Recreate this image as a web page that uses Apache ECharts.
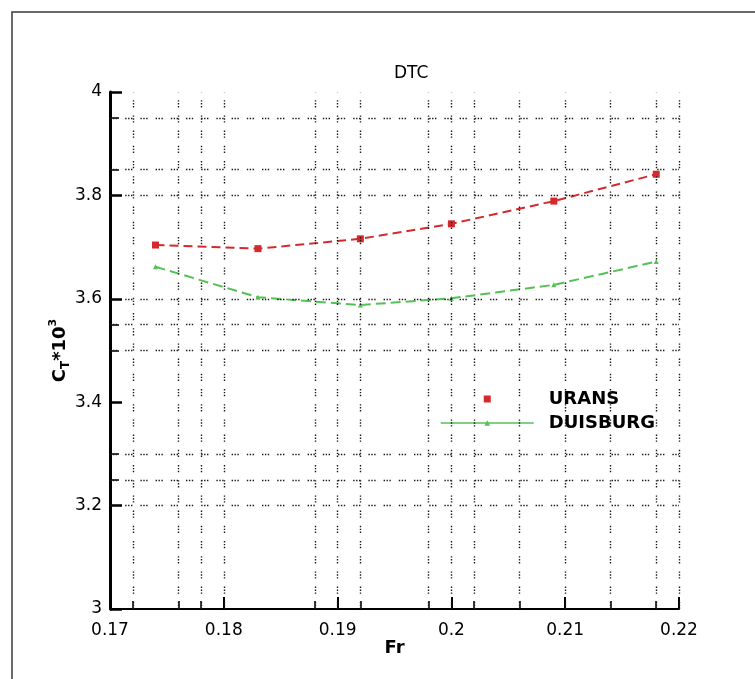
<!DOCTYPE html>
<html>
<head>
<meta charset="utf-8">
<script src="https://cdn.jsdelivr.net/npm/echarts@6/dist/echarts.min.js"></script>
<style>
  html, body { margin: 0; padding: 0; background: #fff; }
  #chart { width: 755px; height: 679px; }
</style>
</head>
<body>
<div id="chart"></div>
<script>
// Froude numbers of the computed / measured runs
const froude = [0.174, 0.183, 0.192, 0.200, 0.209, 0.218];
// Total resistance coefficient C_T * 10^3
const uransCT = [3.704, 3.697, 3.716, 3.745, 3.789, 3.841];
const duisburgCT = [3.662, 3.603, 3.588, 3.601, 3.627, 3.672];

// Axis ranges and tick values
const xRange = [0.17, 0.22];
const xStep = 0.01;
const yRange = [3, 4];
const yStep = 0.2;
const xMinorTicks = [0.172, 0.176, 0.178, 0.188, 0.192, 0.198, 0.202, 0.206, 0.214, 0.218];
const yMinorTicks = [3.25, 3.3, 3.5, 3.55, 3.85, 3.95];
// Dotted grid lines
const xGridLines = [0.172, 0.176, 0.178, 0.18, 0.188, 0.19, 0.192, 0.198, 0.2, 0.202, 0.206, 0.21, 0.214, 0.218, 0.22];
const yGridLines = [3.2, 3.25, 3.3, 3.5, 3.55, 3.6, 3.8, 3.85, 3.95];

const FONT = 'DejaVu Sans';
const chart = echarts.init(document.getElementById('chart'), null, { renderer: 'canvas' });

const pairs = (xs, ys) => xs.map((x, i) => [x, ys[i]]);
// clustered dots: three dots, then a longer gap
const gridStyle = { type: [1.4, 1.5, 1.4, 1.5, 1.4, 8], color: '#1a1a1a', width: 1.4 };

const option = {
  animation: false,
  backgroundColor: '#fff',
  graphic: [{
    type: 'rect',
    shape: { x: 12, y: 12, width: 900, height: 900 },
    style: { fill: 'none', stroke: '#3a3a3a', lineWidth: 1.5 },
    silent: true
  }],
  title: {
    text: 'DTC',
    left: 389,
    top: 60,
    textStyle: { fontFamily: FONT, fontSize: 17, fontWeight: 'normal', color: '#000' }
  },
  grid: { left: 110, right: 76, top: 92, bottom: 70, containLabel: false },
  legend: {
    left: 440,
    top: 389,
    orient: 'vertical',
    padding: 0,
    itemWidth: 93,
    itemHeight: 7,
    itemGap: 4,
    selectedMode: false,
    lineStyle: { type: 'solid', width: 1.5 },
    textStyle: { fontFamily: FONT, fontSize: 18, fontWeight: 'bold', color: '#000', lineHeight: 20, padding: [0, 0, 0, 10] },
    data: [
      { name: 'URANS', icon: 'path://M0,0H10V10H0Z' },
      { name: 'DUISBURG' }
    ]
  },
  xAxis: [{
    type: 'value',
    min: xRange[0], max: xRange[1], interval: xStep,
    name: 'Fr',
    nameLocation: 'middle',
    nameGap: 30,
    nameMoveOverlap: false,
    nameTextStyle: { fontFamily: FONT, fontSize: 18, fontWeight: 'bold', color: '#000' },
    axisLine: { onZero: false, lineStyle: { color: '#000', width: 2 } },
    axisTick: { inside: true, length: 12, lineStyle: { color: '#000', width: 2 } },
    axisLabel: { fontFamily: FONT, fontSize: 17, color: '#000', margin: 13 },
    splitLine: { show: false }
  }, {
    type: 'value',
    position: 'bottom',
    min: xRange[0], max: xRange[1],
    axisLine: { show: false, onZero: false },
    axisTick: { inside: true, length: 8, customValues: xMinorTicks, lineStyle: { color: '#000', width: 1.5 } },
    axisLabel: { show: false },
    splitLine: { show: false }
  }],
  yAxis: [{
    type: 'value',
    min: yRange[0], max: yRange[1], interval: yStep,
    name: '{m|C}{sub|T}{m|*10}{sup|3}',
    nameLocation: 'middle',
    nameRotate: 90,
    nameGap: 38,
    nameMoveOverlap: false,
    nameTextStyle: {
      rich: {
        m: { fontFamily: FONT, fontSize: 18, fontWeight: 'bold', color: '#000', lineHeight: 24, verticalAlign: 'middle' },
        sub: { fontFamily: FONT, fontSize: 12, fontWeight: 'bold', color: '#000', lineHeight: 24, verticalAlign: 'bottom' },
        sup: { fontFamily: FONT, fontSize: 11, fontWeight: 'bold', color: '#000', lineHeight: 24, verticalAlign: 'top' }
      }
    },
    axisLine: { onZero: false, lineStyle: { color: '#000', width: 3 } },
    axisTick: { inside: true, length: 12, lineStyle: { color: '#000', width: 2.5 } },
    axisLabel: { fontFamily: FONT, fontSize: 17, color: '#000', margin: 8 },
    splitLine: { show: false }
  }, {
    type: 'value',
    position: 'left',
    min: yRange[0], max: yRange[1],
    axisLine: { show: false, onZero: false },
    axisTick: { inside: true, length: 9, customValues: yMinorTicks, lineStyle: { color: '#000', width: 1.5 } },
    axisLabel: { show: false },
    splitLine: { show: false }
  }],
  series: [{
    name: 'grid',
    type: 'line',
    data: [],
    silent: true,
    z: 1,
    markLine: {
      silent: true,
      precision: 4,
      symbol: ['none', 'none'],
      label: { show: false },
      lineStyle: gridStyle,
      emphasis: { disabled: true },
      data: xGridLines.map(v => ({ xAxis: v })).concat(yGridLines.map(v => ({ yAxis: v })))
    }
  }, {
    name: 'URANS',
    type: 'line',
    z: 3,
    data: pairs(froude, uransCT),
    symbol: 'rect',
    symbolSize: 7,
    showSymbol: true,
    color: '#d42a2e',
    itemStyle: { color: '#d42a2e' },
    lineStyle: { color: '#d42a2e', width: 2, type: [9, 5] }
  }, {
    name: 'DUISBURG',
    type: 'line',
    z: 3,
    data: pairs(froude, duisburgCT),
    symbol: 'triangle',
    symbolSize: 5,
    showSymbol: true,
    color: '#55c055',
    itemStyle: { color: '#55c055' },
    lineStyle: { color: '#55c055', width: 2, type: [10, 5] }
  }]
};

chart.setOption(option);
</script>
</body>
</html>
